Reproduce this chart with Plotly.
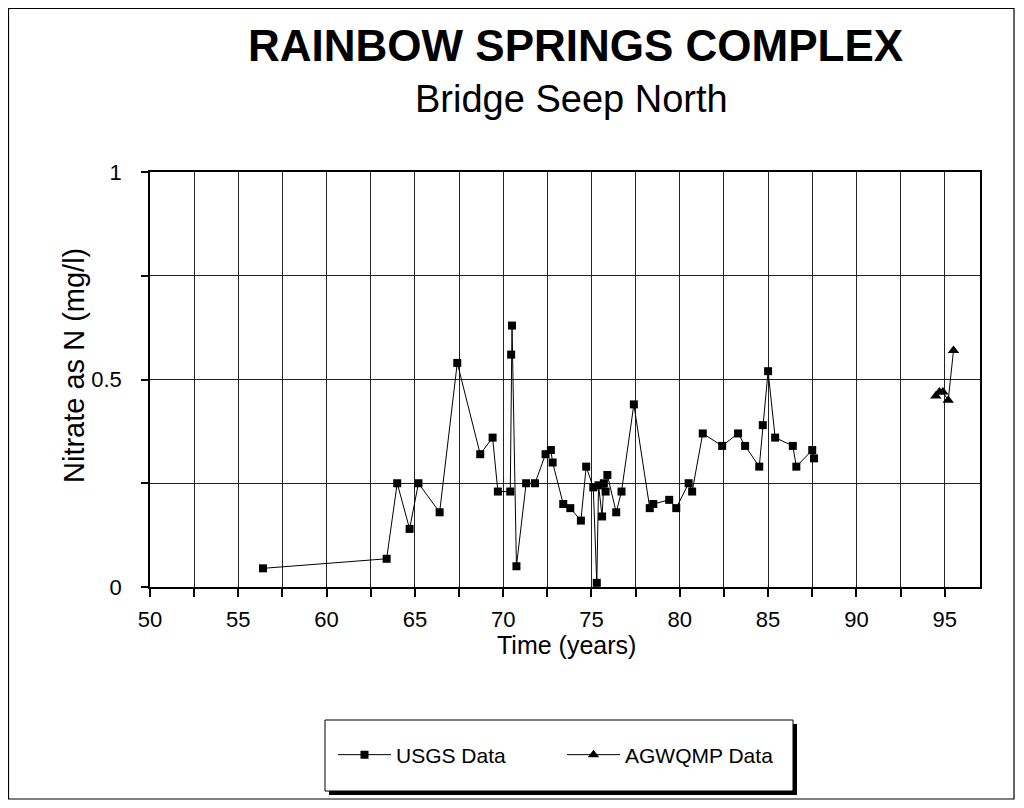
import plotly.graph_objects as go

# ---- data ----
usgs_years = [56.4, 63.4, 64.0, 64.7, 65.2, 66.4, 67.4, 68.7, 69.4, 69.7,
              70.4, 70.45, 70.5, 70.75, 71.3, 71.8, 72.4, 72.7, 72.8, 73.4,
              73.8, 74.4, 74.7, 75.1, 75.3, 75.4, 75.6, 75.7, 75.8, 75.9,
              76.4, 76.7, 77.4, 78.3, 78.5, 79.4, 79.8, 80.5, 80.7, 81.3,
              82.4, 83.3, 83.7, 84.5, 84.7, 85.0, 85.4, 86.4, 86.6, 87.5, 87.6]
usgs_nitrate = [0.045, 0.068, 0.25, 0.14, 0.25, 0.18, 0.54, 0.32, 0.36, 0.23,
                0.23, 0.56, 0.63, 0.05, 0.25, 0.25, 0.32, 0.33, 0.30, 0.20,
                0.19, 0.16, 0.29, 0.24, 0.01, 0.245, 0.17, 0.25, 0.23, 0.27,
                0.18, 0.23, 0.44, 0.19, 0.20, 0.21, 0.19, 0.25, 0.23, 0.37,
                0.34, 0.37, 0.34, 0.29, 0.39, 0.52, 0.36, 0.34, 0.29, 0.33, 0.31]

agwqmp_years = [94.5, 94.7, 94.9, 95.2, 95.5]
agwqmp_nitrate = [0.46, 0.47, 0.47, 0.45, 0.57]

x_tickvals = [50 + 2.5 * i for i in range(19)]
x_ticktext = [str(int(v)) if v % 5 == 0 else "" for v in x_tickvals]
y_tickvals = [0, 0.25, 0.5, 0.75, 1]
y_ticktext = ["0", "", "0.5", "", "1"]

title_text = "RAINBOW SPRINGS COMPLEX"
subtitle_text = "Bridge Seep North"
x_title = "Time (years)"
y_title = "Nitrate as N (mg/l)"

FONT = "Arial, Liberation Sans, Helvetica, sans-serif"

# ---- layout geometry (screen pixels; page body has an 8px margin) ----
OFF = 8
W, H = 1024 - 2 * OFF, 808 - 2 * OFF
L, R, T, B = 150, 980, 172, 587   # plot area on screen


def px(x):
    return (x - L) / (R - L)


def py(y):
    return (B - y) / (B - T)


fig = go.Figure()
fig.add_trace(go.Scatter(
    x=usgs_years, y=usgs_nitrate, mode="lines+markers", name="USGS Data",
    line=dict(color="black", width=1),
    marker=dict(symbol="square", size=8, color="black"),
))
fig.add_trace(go.Scatter(
    x=agwqmp_years, y=agwqmp_nitrate, mode="lines+markers", name="AGWQMP Data",
    line=dict(color="black", width=1),
    marker=dict(symbol="triangle-up", size=10, color="black"),
))

shapes = [
    # outer frame
    dict(type="rect", xref="paper", yref="paper",
         x0=px(8.5), x1=px(1014), y0=py(799), y1=py(8.5),
         line=dict(color="black", width=1.2), layer="below"),
    # legend shadow
    dict(type="rect", xref="paper", yref="paper",
         x0=px(329), x1=px(797), y0=py(795), y1=py(724),
         line=dict(width=0), fillcolor="black", layer="below"),
    # legend box
    dict(type="rect", xref="paper", yref="paper",
         x0=px(325), x1=px(793), y0=py(791), y1=py(720),
         line=dict(color="black", width=1), fillcolor="white", layer="below"),
]

annotations = [
    dict(text="<b>" + title_text + "</b>", x=px(575), y=py(45), xref="paper", yref="paper",
         showarrow=False, xanchor="center", yanchor="middle",
         font=dict(family=FONT, size=44, color="black")),
    dict(text=subtitle_text, x=px(571), y=py(99), xref="paper", yref="paper",
         showarrow=False, xanchor="center", yanchor="middle",
         font=dict(family=FONT, size=38, color="black")),
    dict(text=x_title, x=px(566), y=py(645), xref="paper", yref="paper",
         showarrow=False, xanchor="center", yanchor="middle",
         font=dict(family=FONT, size=25, color="black")),
    dict(text=y_title, x=px(74), y=py(366), xref="paper", yref="paper",
         showarrow=False, xanchor="center", yanchor="middle", textangle=-90,
         font=dict(family=FONT, size=29, color="black")),
]

fig.update_layout(
    width=W, height=H,
    margin=dict(l=L - OFF, r=W - (R - OFF), t=T - OFF, b=H - (B - OFF), pad=0),
    paper_bgcolor="white", plot_bgcolor="white",
    font=dict(family=FONT, size=22, color="black"),
    showlegend=True,
    legend=dict(orientation="h", x=px(333), y=py(755), xanchor="left", yanchor="middle",
                bgcolor="rgba(0,0,0,0)", borderwidth=0,
                font=dict(family=FONT, size=21, color="black"),
                entrywidth=161, entrywidthmode="pixels", itemwidth=53),
    shapes=shapes,
    annotations=annotations,
)

fig.update_xaxes(
    range=[50, 97], tickvals=x_tickvals, ticktext=x_ticktext,
    showgrid=True, gridcolor="#222", gridwidth=1,
    showline=True, linecolor="black", linewidth=2, mirror=True,
    ticks="outside", ticklen=8, tickcolor="black", tickwidth=1.5,
    zeroline=False, tickfont=dict(size=22), ticklabelstandoff=4,
)
fig.update_yaxes(
    range=[0, 1], tickvals=y_tickvals, ticktext=y_ticktext,
    showgrid=True, gridcolor="#222", gridwidth=1,
    showline=True, linecolor="black", linewidth=1.5, mirror=True,
    ticks="outside", ticklen=7, tickcolor="black", tickwidth=1.5,
    zeroline=False, tickfont=dict(size=22), ticklabelstandoff=15,
)

fig.write_html("out.html")
